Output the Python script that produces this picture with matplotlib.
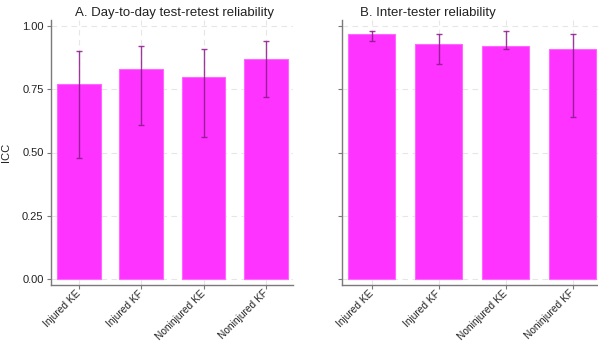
import matplotlib
matplotlib.use("Agg")
import matplotlib.pyplot as plt
import numpy as np

plt.rcParams['font.family'] = ['Liberation Sans', 'DejaVu Sans']

categories = ["Injured KE", "Injured KF", "Noninjured KE", "Noninjured KF"]

# Panel A: day-to-day test-retest ICC with 95% CI
icc_a = [0.77, 0.83, 0.80, 0.87]
lo_a = [0.48, 0.61, 0.56, 0.72]
hi_a = [0.90, 0.92, 0.91, 0.94]

# Panel B: inter-tester ICC with 95% CI
icc_b = [0.97, 0.93, 0.92, 0.91]
lo_b = [0.94, 0.85, 0.91, 0.64]
hi_b = [0.98, 0.97, 0.98, 0.97]

yticks = [0.00, 0.25, 0.50, 0.75, 1.00]
ytick_labels = ["0.00", "0.25", "0.50", "0.75", "1.00"]

bar_color = "#ff33ff"
err_color = "#8b1a8b"
grid_color = "#e6e6e6"
spine_color = "#7a7a7a"

W, H = 598, 345
fig = plt.figure(figsize=(W / 100, H / 100), dpi=100)

def px_axes(x0, x1, y0, y1):
    return fig.add_axes([x0 / W, 1 - y1 / H, (x1 - x0) / W, (y1 - y0) / H])

ax_a = px_axes(50.5, 293, 20, 285)
ax_b = px_axes(341.7, 598, 20, 285)

def draw(ax, vals, lo, hi, title, tx, xlim, show_labels):
    x = np.arange(len(categories))
    ax.bar(x, vals, width=0.7, color=bar_color, edgecolor="#ff66ff", linewidth=0.8, zorder=2)
    vals_arr = np.array(vals)
    yerr = np.vstack([vals_arr - np.array(lo), np.array(hi) - vals_arr])
    ax.errorbar(x, vals, yerr=yerr, fmt="none", ecolor=err_color, elinewidth=1.0,
                capsize=2, capthick=1.0, alpha=0.85, zorder=3)
    ax.set_xlim(*xlim)
    ax.set_ylim(-0.024, 1.024)
    ax.set_yticks(yticks)
    if show_labels:
        ax.set_yticklabels(ytick_labels, fontsize=8, color="#222222")
        ax.set_ylabel("ICC", fontsize=8, color="#222222", labelpad=8)
    else:
        ax.set_yticklabels([])
    ax.set_xticks(x)
    ax.set_xticklabels(categories, rotation=45, ha="right", va="center",
                       rotation_mode="anchor", fontsize=7.3, color="#222222")
    ax.grid(True, color=grid_color, linestyle=(0, (5, 4)), linewidth=0.8, zorder=0)
    ax.set_axisbelow(True)
    for s in ["top", "right"]:
        ax.spines[s].set_visible(False)
    for s in ["left", "bottom"]:
        ax.spines[s].set_color(spine_color)
        ax.spines[s].set_linewidth(1.0)
    ax.tick_params(axis="both", colors=spine_color, length=3, width=0.8,
                   labelcolor="#222222", pad=2)
    ax.text(tx, 1.005, title, transform=ax.transAxes, fontsize=9.5, color="#222222",
            ha="left", va="bottom")

draw(ax_a, icc_a, lo_a, hi_a, "A. Day-to-day test-retest reliability", 0.103, (-0.45, 3.43), True)
draw(ax_b, icc_b, lo_b, hi_b, "B. Inter-tester reliability", 0.071, (-0.45, 3.38), False)

fig.savefig("out.png", dpi=100)
